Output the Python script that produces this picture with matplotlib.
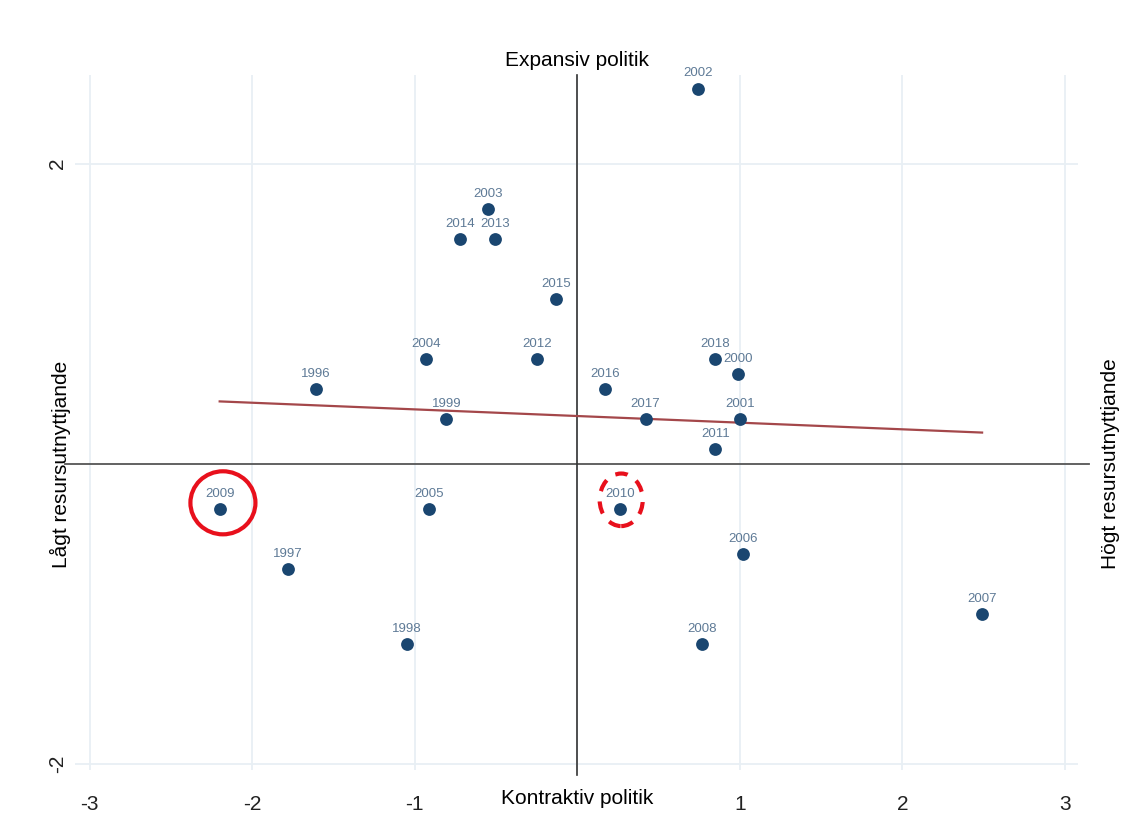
import numpy as np
import matplotlib
matplotlib.use("Agg")
import matplotlib.pyplot as plt
from matplotlib.patches import Ellipse

plt.rcParams['font.family'] = ['Liberation Sans', 'DejaVu Sans']

# data
years = [2002, 2003, 2014, 2013, 2015, 2004, 2012, 2018, 2000, 1996, 2016,
         1999, 2017, 2001, 2011, 2009, 2005, 2010, 2006, 1997, 2007, 1998, 2008]
policy = [0.745, -0.548, -0.72, -0.505, -0.13, -0.93, -0.246, 0.85, 0.99, -1.61, 0.17,
          -0.806, 0.42, 1.0, 0.85, -2.2, -0.91, 0.265, 1.02, -1.78, 2.49, -1.05, 0.77]
gap = [2.5, 1.7, 1.5, 1.5, 1.1, 0.7, 0.7, 0.7, 0.6, 0.5, 0.5,
       0.3, 0.3, 0.3, 0.1, -0.3, -0.3, -0.3, -0.6, -0.7, -1.0, -1.2, -1.2]
xticks = [-3, -2, -1, 0, 1, 2, 3]
xticklabels = ["-3", "-2", "-1", "", "1", "2", "3"]
yticks = [-2, 2]
circled = [2009]
dash_circled = [2010]

x = np.array(policy)
y = np.array(gap)

fig = plt.figure(figsize=(11.35, 8.36), dpi=100)
ax = fig.add_axes([75 / 1135, (836 - 770) / 836, (1078 - 75) / 1135, (770 - 75) / 836])
ax.set_xlim(-3.09, 3.08)
ax.set_ylim(-2.04, 2.59)

for s in ax.spines.values():
    s.set_visible(False)

# grid
for t in xticks:
    ax.axvline(t, color="#e8eff4", lw=1.3, zorder=0)
for t in yticks:
    ax.axhline(t, color="#e8eff4", lw=1.3, zorder=0)

# quadrant lines
ax.plot([-3.15, 3.15], [0, 0], color="#555555", lw=1.3, clip_on=False, zorder=1)
ax.plot([0, 0], [-2.07, 2.59], color="#333333", lw=1.2, clip_on=False, zorder=1)

# linear fit
k, m = np.polyfit(x, y, 1)
xf = np.array([x.min(), x.max()])
ax.plot(xf, k * xf + m, color="#a4474a", lw=1.6, zorder=2)

ax.scatter(x, y, s=85, color="#1a4670", zorder=3, linewidths=0)
for xi, yi, yr in zip(x, y, years):
    ax.annotate(str(yr), (xi, yi), xytext=(0, 6.5), textcoords="offset points",
                ha="center", va="bottom", fontsize=9.5, color="#5e7a96", zorder=4)

# red marks
for xi, yi, yr in zip(x, y, years):
    if yr in circled:
        ax.add_patch(Ellipse((xi + 0.02, yi + 0.04), 0.4, 0.42, fill=False,
                             ec="#e8101c", lw=3, zorder=5))
    if yr in dash_circled:
        ax.add_patch(Ellipse((xi + 0.005, yi + 0.06), 0.265, 0.35, fill=False,
                             ec="#e8101c", lw=3, ls=(0, (3, 2.5)), zorder=5))

ax.set_xticks(xticks)
ax.set_xticklabels(xticklabels)
ax.set_yticks(yticks)
ax.set_yticklabels([str(t) for t in yticks], rotation=90, va="center")
ax.tick_params(axis="both", length=0, labelsize=15, colors="#222222")
ax.tick_params(axis="x", pad=18)
ax.tick_params(axis="y", pad=6)

fig.text(577 / 1135, 1 - 60 / 836, "Expansiv politik", ha="center", va="center", fontsize=15)
fig.text(577 / 1135, 1 - 798 / 836, "Kontraktiv politik", ha="center", va="center", fontsize=15)
fig.text(60 / 1135, 1 - 464 / 836, "Lågt resursutnyttjande", ha="center", va="center",
         rotation=90, fontsize=15)
fig.text(1110 / 1135, 1 - 464 / 836, "Högt resursutnyttjande", ha="center", va="center",
         rotation=90, fontsize=15)

fig.savefig("out.png", dpi=100)
